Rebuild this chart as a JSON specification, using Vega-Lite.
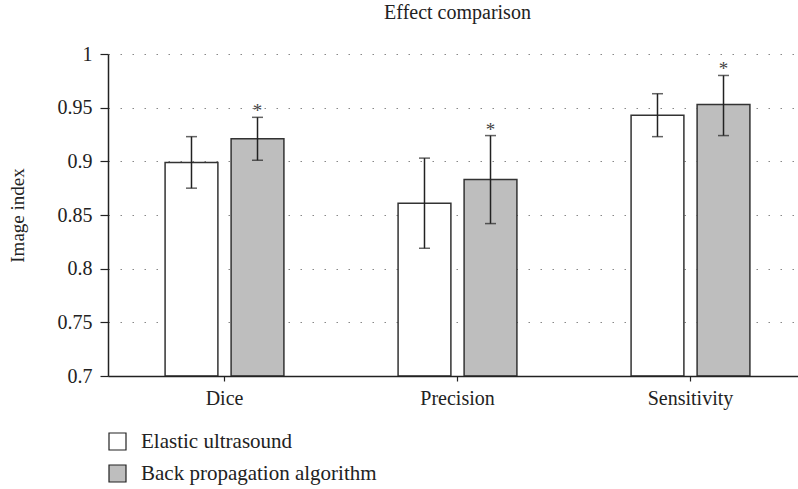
{
  "$schema": "https://vega.github.io/schema/vega-lite/v6.json",
  "autosize": "none",
  "padding": {"left": 108, "top": 54, "right": 0, "bottom": 113},
  "width": 699,
  "height": 322,
  "background": "white",
  "title": {"text": "Effect comparison", "font": "'Liberation Serif', 'DejaVu Serif', serif", "fontSize": 20, "fontWeight": "normal", "color": "#222", "offset": 5, "anchor": "middle", "frame": "group", "baseline": "alphabetic"},
  "config": {"view": {"stroke": null}, "font": "'Liberation Serif', 'DejaVu Serif', serif"},
  "data": {"values": [
    {"metric": "Dice", "method": "Elastic ultrasound", "value": 0.899, "lo": 0.875, "hi": 0.923, "mark": ""},
    {"metric": "Dice", "method": "Back propagation algorithm", "value": 0.921, "lo": 0.901, "hi": 0.941, "mark": "*"},
    {"metric": "Precision", "method": "Elastic ultrasound", "value": 0.861, "lo": 0.819, "hi": 0.903, "mark": ""},
    {"metric": "Precision", "method": "Back propagation algorithm", "value": 0.883, "lo": 0.842, "hi": 0.924, "mark": "*"},
    {"metric": "Sensitivity", "method": "Elastic ultrasound", "value": 0.943, "lo": 0.923, "hi": 0.963, "mark": ""},
    {"metric": "Sensitivity", "method": "Back propagation algorithm", "value": 0.953, "lo": 0.924, "hi": 0.980, "mark": "*"}
  ]},
  "encoding": {
    "x": {"field": "metric", "type": "nominal", "sort": ["Dice", "Precision", "Sensitivity"],
      "scale": {"paddingInner": 0.49, "paddingOuter": 0.245},
      "axis": {"title": null, "labelAngle": 0, "labelFont": "'Liberation Serif', 'DejaVu Serif', serif", "labelFontSize": 20, "labelColor": "#222", "domainColor": "#222", "domainWidth": 1.5, "tickColor": "#222", "tickSize": 5, "tickWidth": 1.2, "labelPadding": 7, "grid": false, "zindex": 1}},
    "xOffset": {"field": "method", "type": "nominal", "sort": ["Elastic ultrasound", "Back propagation algorithm"], "scale": {"paddingInner": 0.2, "paddingOuter": 0}}
  },
  "layer": [
    {
      "mark": {"type": "bar", "stroke": "#333", "strokeWidth": 1.5},
      "encoding": {
        "y": {"field": "value", "type": "quantitative", "scale": {"domain": [0.7, 1], "zero": false, "nice": false},
          "axis": {"title": "Image index", "titleFont": "'Liberation Serif', 'DejaVu Serif', serif", "titleFontSize": 19, "titleFontWeight": "normal", "titleColor": "#222", "titlePadding": 30,
            "values": [0.7, 0.75, 0.8, 0.85, 0.9, 0.95, 1], "format": "~g",
            "labelFont": "'Liberation Serif', 'DejaVu Serif', serif", "labelFontSize": 20, "labelColor": "#222", "labelPadding": 8,
            "domainColor": "#222", "domainWidth": 1.5, "tickColor": "#222", "tickSize": 8, "tickWidth": 1.2,
            "grid": true, "gridColor": "#888", "gridDash": [1.5, 10.5], "gridWidth": 1.2}},
        "y2": {"datum": 0.7},
        "fill": {"field": "method", "type": "nominal", "sort": ["Elastic ultrasound", "Back propagation algorithm"],
          "scale": {"domain": ["Elastic ultrasound", "Back propagation algorithm"], "range": ["#ffffff", "#bebebe"]},
          "legend": {"title": null, "orient": "none", "legendX": -1, "legendY": 377, "symbolType": "square", "symbolSize": 289,
            "symbolStrokeColor": "#222", "symbolStrokeWidth": 1.2, "labelFont": "'Liberation Serif', 'DejaVu Serif', serif", "labelFontSize": 21, "labelColor": "#222",
            "rowPadding": 9, "labelOffset": 13, "labelLimit": 500}}
      }
    },
    {
      "mark": {"type": "rule", "color": "#222", "strokeWidth": 1.5},
      "encoding": {"y": {"field": "lo", "type": "quantitative"}, "y2": {"field": "hi"}}
    },
    {
      "mark": {"type": "tick", "color": "#222", "size": 11, "thickness": 1.5, "orient": "horizontal"},
      "encoding": {"y": {"field": "lo", "type": "quantitative"}}
    },
    {
      "mark": {"type": "tick", "color": "#222", "size": 11, "thickness": 1.5, "orient": "horizontal"},
      "encoding": {"y": {"field": "hi", "type": "quantitative"}}
    },
    {
      "mark": {"type": "text", "font": "'Liberation Serif', 'DejaVu Serif', serif", "fontSize": 19, "color": "#444", "dy": 0, "baseline": "alphabetic"},
      "encoding": {"y": {"field": "hi", "type": "quantitative"}, "text": {"field": "mark"}}
    }
  ]
}
